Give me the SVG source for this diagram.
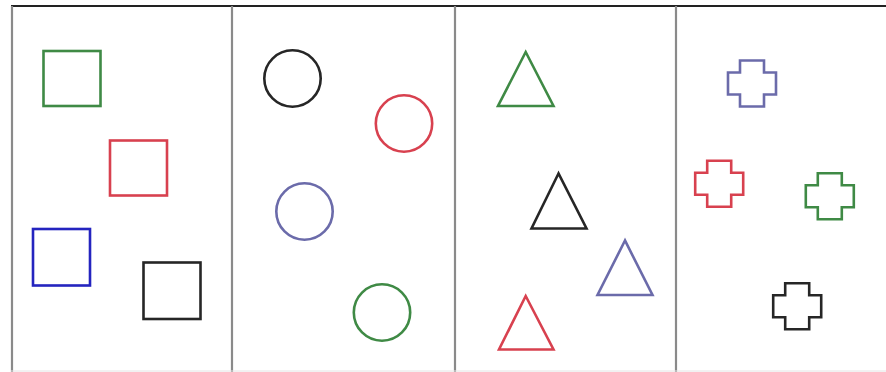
<svg xmlns="http://www.w3.org/2000/svg" width="886" height="372" viewBox="0 0 886 372">
<style>
.shape{fill:none;stroke-width:2.6;stroke-linejoin:miter}
.g{stroke:#3f8a45}
.r{stroke:#d8414f}
.b{stroke:#2424bf}
.l{stroke:#6b6baa}
.k{stroke:#262626}
.div{stroke:#8a8a8a;stroke-width:2.2}
</style>
<defs>
<path id="cross" d="M-12,-23 H12 V-11 H24 V11 H12 V23 H-12 V11 H-24 V-11 H-12 Z"/>
</defs>
<rect width="886" height="372" fill="#fff"/>
<g id="frame">
<line x1="11" y1="6" x2="886" y2="6" stroke="#222" stroke-width="2"/>
<line class="div" x1="12" y1="6" x2="12" y2="372"/>
<line class="div" x1="232" y1="6" x2="232" y2="372"/>
<line class="div" x1="455" y1="6" x2="455" y2="372"/>
<line class="div" x1="676" y1="6" x2="676" y2="372"/>
<line x1="11" y1="371" x2="886" y2="371" stroke="#e4e4e4" stroke-width="1"/>
</g>
<g id="squares">
<rect id="sq-green" class="shape g" x="43.5" y="51" width="57" height="55"/>
<rect id="sq-red" class="shape r" x="110" y="140.5" width="57" height="55"/>
<rect id="sq-blue" class="shape b" x="33" y="229" width="57" height="56.5"/>
<rect id="sq-black" class="shape k" x="143.5" y="262.5" width="57" height="56.5"/>
</g>
<g id="circles">
<circle id="c-black" class="shape k" cx="292.5" cy="78.5" r="28.2"/>
<circle id="c-red" class="shape r" cx="404" cy="123.5" r="28.2"/>
<circle id="c-blue" class="shape l" cx="304.5" cy="211.5" r="28.2"/>
<circle id="c-green" class="shape g" cx="382" cy="312.5" r="28.2"/>
</g>
<g id="triangles">
<polygon id="t-green" class="shape g" points="525.7,52 498,106 553.5,106"/>
<polygon id="t-black" class="shape k" points="558.5,173.5 531.5,228.5 586.5,228.5"/>
<polygon id="t-blue" class="shape l" points="625,240.5 597.5,295 652.5,295"/>
<polygon id="t-red" class="shape r" points="525.7,296 499,349.5 553.5,349.5"/>
</g>
<g id="crosses">
<use id="x-blue" href="#cross" class="shape l" x="752" y="83.5"/>
<use id="x-red" href="#cross" class="shape r" x="719.2" y="183.7"/>
<use id="x-green" href="#cross" class="shape g" x="829.8" y="196.3"/>
<use id="x-black" href="#cross" class="shape k" x="797.2" y="306.3"/>
</g>
</svg>
